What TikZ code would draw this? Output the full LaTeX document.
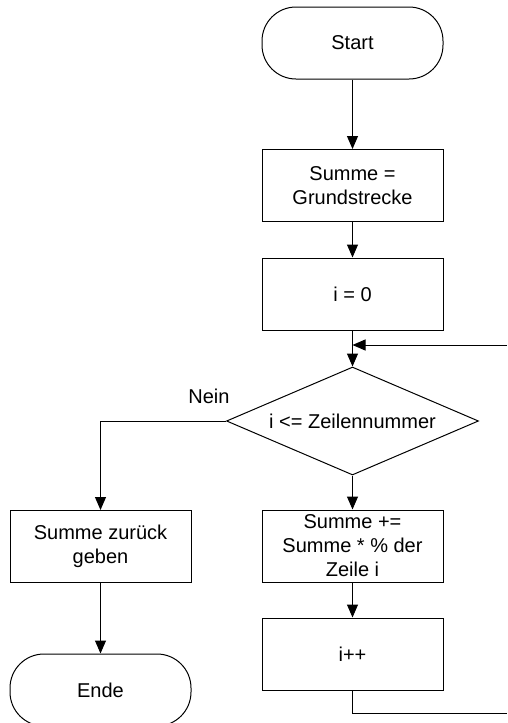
\documentclass[tikz,border=0pt]{standalone}
\usepackage{fontspec}
\setmainfont{Liberation Sans}
\usetikzlibrary{shapes.geometric,arrows.meta}

\begin{document}
\begin{tikzpicture}[x=1pt,y=-1pt,line width=1pt,
  box/.style={rectangle,draw,minimum width=181pt,minimum height=72pt,align=center,inner sep=1pt,font=\fontsize{20}{24}\selectfont},
  term/.style={box,rounded corners=34pt},
  test/.style={diamond,draw,minimum width=252pt,minimum height=108pt,shape aspect=2.3,inner sep=0pt,font=\fontsize{20}{24}\selectfont},
  flow/.style={-{Triangle[length=13pt,width=11pt]}}]
  \useasboundingbox (0,0) rectangle (507,723);

  \node[term] (1) at (352.5,43) {Start};
  \node[box] (2) at (352.5,185.5) {Summe =\\Grundstrecke};
  \node[box] (3) at (352.5,294) {i = 0};
  \node[test] (4) at (352.5,421) {i <= Zeilennummer};
  \node[box] (5) at (100.5,546.5) {Summe zurück\\geben};
  \node[term] (6) at (100.5,690) {Ende};
  \node[box] (7) at (352.5,546) {Summe +=\\Summe * \% der\\Zeile i};
  \node[box] (8) at (352.5,654) {i++};
  \node[font=\fontsize{20}{24}\selectfont] (nein) at (209,396) {Nein};

  % loop back, cut at the right edge
  \coordinate (r1) at (507,713);
  \coordinate (r2) at (507,345);

  \draw[flow] (1) to (2);
  \draw[flow] (2) to (3);
  \draw[flow] (3) to (4);
  \draw[flow] (4.west) -| (5);
  \draw[flow] (5) to (6);
  \draw[flow] (4) to (7);
  \draw[flow] (7) to (8);
  \draw (8) |- (r1);
  \draw[flow] (r2) -- (r2 -| 3);
\end{tikzpicture}
\end{document}
